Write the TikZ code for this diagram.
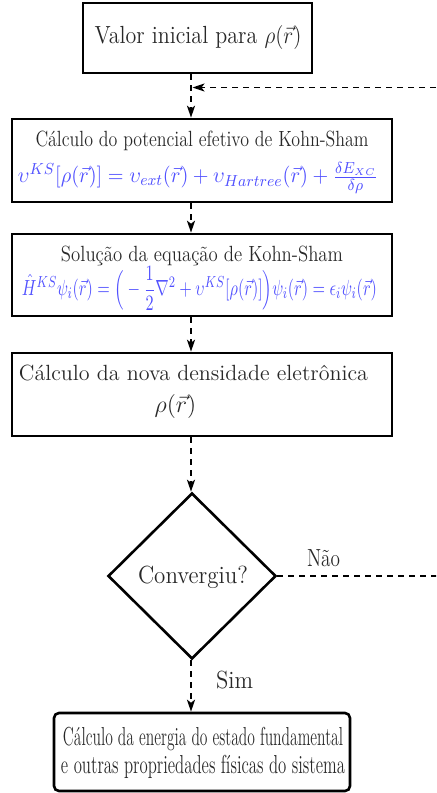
\documentclass[tikz,border=0pt]{standalone}
\usepackage{amsmath}
\usepackage{graphicx}
\usetikzlibrary{shapes.geometric,arrows.meta}
\definecolor{eqblue}{RGB}{80,80,255}
\definecolor{txtgray}{RGB}{40,40,40}
\newcommand{\fitw}[2]{\resizebox{#1}{\height}{#2}}
\tikzset{
  procbox/.style={draw, line width=1.3pt, rectangle, inner sep=0pt},
  decbox/.style={draw, line width=1.3pt, diamond, inner sep=0pt, aspect=1},
  endbox/.style={draw, line width=1.3pt, rectangle, rounded corners=2.5pt, inner sep=0pt},
  txt/.style={inner sep=0pt, anchor=base, text=txtgray},
  eq/.style={inner sep=0pt, anchor=base, text=eqblue},
  flow/.style={line width=0.9pt, dash pattern=on 3pt off 2.5pt, -{Stealth[length=6pt,width=4pt,inset=1.5pt]}},
  plain/.style={line width=0.9pt, dash pattern=on 3pt off 2.5pt}
}
\begin{document}
\begin{tikzpicture}[x=0.5pt,y=-0.5pt]
\useasboundingbox (0,0) rectangle (436,793);
\clip (0,0) rectangle (436,793);
% shapes
\node[procbox, minimum width=114.5pt, minimum height=35pt] (b1) at (197.5,38) {};
\node[procbox, minimum width=190pt, minimum height=41.5pt] (b2) at (202,160.5) {};
\node[procbox, minimum width=190pt, minimum height=41pt] (b3) at (202,275) {};
\node[procbox, minimum width=190pt, minimum height=41.5pt] (b4) at (202,394.5) {};
\node[decbox, minimum width=84pt, minimum height=83pt] (dec) at (192,576) {};
\node[endbox, minimum width=148pt, minimum height=39pt] (fin) at (202,752) {};
% texts
\node[txt] (t1) at (198,43.3) {\fitw{103.5pt}{\fontsize{12.4}{14}\selectfont Valor inicial para $\rho(\vec{r})$}};
\node[txt] (t2a) at (202,146.7) {\fitw{166.5pt}{\fontsize{11}{13}\selectfont Cálculo do potencial efetivo de Kohn-Sham}};
\node[eq] (t2b) at (198,182.7) {\fitw{180pt}{\fontsize{11}{13}\selectfont $\upsilon^{KS}[\rho(\vec{r})] = \upsilon_{ext}(\vec{r}) + \upsilon_{Hartree}(\vec{r}) + \frac{\delta E_{XC}}{\delta\rho}$}};
\node[txt] (t3a) at (202,261.2) {\fitw{141pt}{\fontsize{11}{13}\selectfont Solução da equação de Kohn-Sham}};
\node[eq] (t3b) at (199.5,295.5) {\fitw{177.5pt}{\fontsize{11}{13}\selectfont $\hat{H}^{KS}\psi_i(\vec{r}) = \Big(-\dfrac{1}{2}\nabla^2 + \upsilon^{KS}[\rho(\vec{r})]\Big)\psi_i(\vec{r}) = \epsilon_i\psi_i(\vec{r})$}};
\node[txt] (t4a) at (193.5,380) {\fitw{174.5pt}{\fontsize{11}{13}\selectfont Cálculo da nova densidade eletrônica}};
\node[txt] (t4b) at (175.5,412) {\fontsize{12}{14}\selectfont $\rho(\vec{r})$};
\node[txt] (tdec) at (193,583) {\fitw{55pt}{\fontsize{12.4}{14}\selectfont Convergiu?}};
\node[txt] (tnao) at (323.5,566) {\fitw{16.5pt}{\fontsize{12.4}{14}\selectfont Não}};
\node[txt] (tsim) at (234.5,688) {\fitw{18.5pt}{\fontsize{12.4}{14}\selectfont Sim}};
\node[txt] (t5a) at (203,745) {\fitw{140pt}{\fontsize{13}{15}\selectfont Cálculo da energia do estado fundamental}};
\node[txt] (t5b) at (203,773) {\fitw{142pt}{\fontsize{13}{15}\selectfont e outras propriedades físicas do sistema}};
% connectors
\coordinate (col) at (191,0);
\coordinate (loopin) at (192.5,87.5);
\coordinate (far) at (470,0);
\draw[flow] (b1.south -| col) -- (b2.north -| col);
\draw[flow] (b2.south -| col) -- (b3.north -| col);
\draw[flow] (b3.south -| col) -- (b4.north -| col);
\draw[flow] (b4.south -| col) -- (dec.north -| col);
\draw[flow] (dec.south -| col) -- (fin.north -| col);
\draw[flow] (dec.east) -- (dec.east -| far) |- (loopin);
\end{tikzpicture}
\end{document}
